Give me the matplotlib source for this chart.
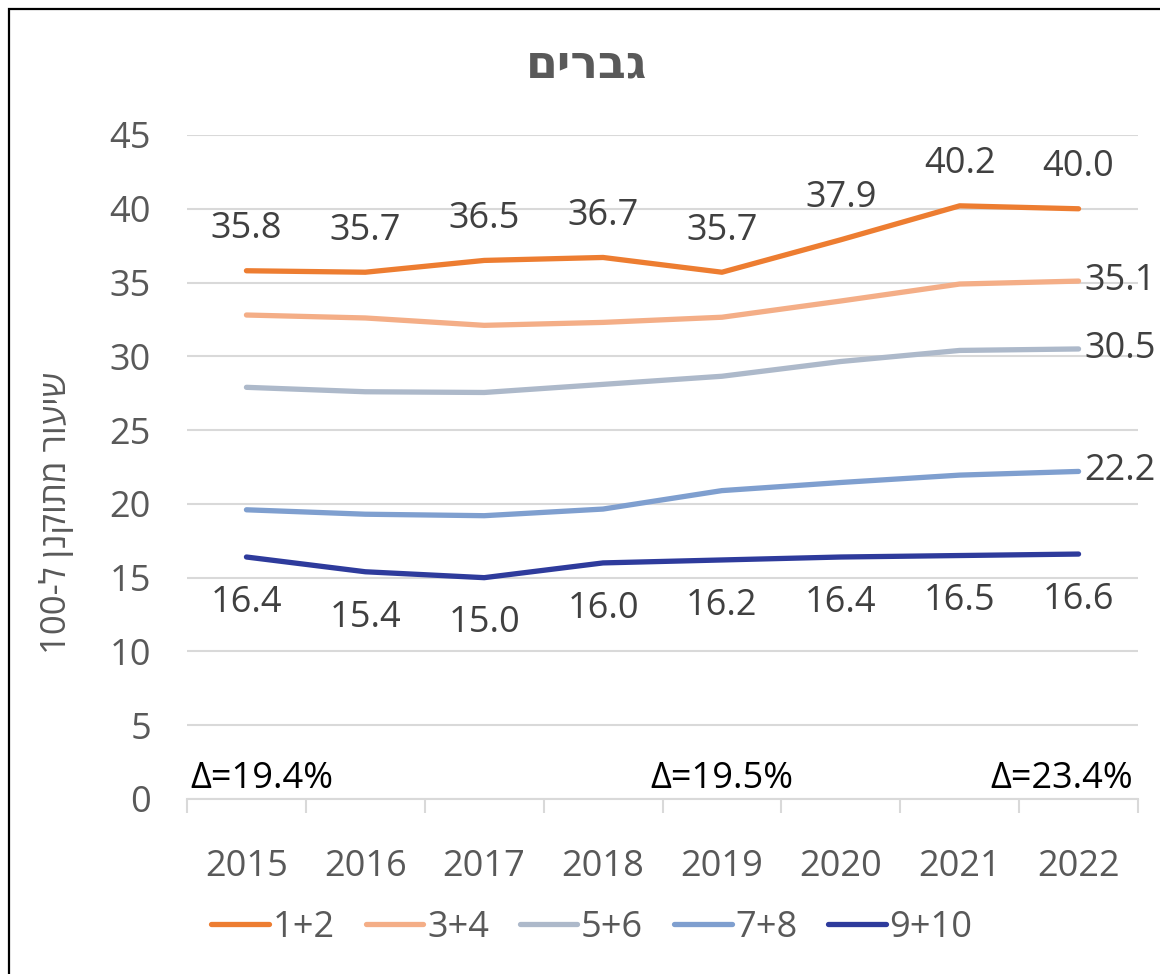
import matplotlib
matplotlib.use("Agg")
import matplotlib.pyplot as plt
import numpy as np
from matplotlib.patches import Rectangle
from matplotlib.ticker import FixedLocator, NullFormatter
import re

plt.rcParams['font.family'] = ['Open Sans', 'DejaVu Sans']

years = ['2015', '2016', '2017', '2018', '2019', '2020', '2021', '2022']
s12 = [35.8, 35.7, 36.5, 36.7, 35.7, 37.9, 40.2, 40.0]
s34 = [32.8, 32.6, 32.1, 32.3, 32.65, 33.75, 34.9, 35.1]
s56 = [27.9, 27.6, 27.55, 28.1, 28.65, 29.65, 30.4, 30.5]
s78 = [19.6, 19.3, 19.2, 19.65, 20.9, 21.45, 21.95, 22.2]
s910 = [16.4, 15.4, 15.0, 16.0, 16.2, 16.4, 16.5, 16.6]
names = ['1+2', '3+4', '5+6', '7+8', '9+10']
colors = ['#ED7D31', '#F4AE87', '#ADB9CA', '#7F9FCF', '#2E3B9C']
deltas = ['Δ=19.4%', 'Δ=19.5%', 'Δ=23.4%']

title_txt = 'גברים'
ylab_txt = 'שיעור מתוקנן ל-100'


def visual(s):
    # matplotlib has no bidi support: flip the string, then put digit runs back
    r = s[::-1]
    return re.sub(r'\d+', lambda m: m.group(0)[::-1], r)


fig = plt.figure(figsize=(11.6, 9.74), dpi=100)
ax = fig.add_axes([187/1160, 1-799/974, (1138-187)/1160, (799-135)/974])

x = np.arange(len(years))
series = [s12, s34, s56, s78, s910]
for vals, nm, c in zip(series, names, colors):
    ax.plot(x, vals, color=c, lw=3.8, label=nm, solid_capstyle='round', zorder=3)

lab_col = '#404040'
fs = 26
for i, v in enumerate(s12):
    ax.annotate(f'{v:.1f}', (i, v), xytext=(0, 30), textcoords='offset points',
                ha='center', va='center', fontsize=fs, color=lab_col)
for i, v in enumerate(s910):
    ax.annotate(f'{v:.1f}', (i, v), xytext=(0, -33), textcoords='offset points',
                ha='center', va='center', fontsize=fs, color=lab_col)
for vals in [s34, s56, s78]:
    ax.annotate(f'{vals[-1]:.1f}', (7, vals[-1]), xytext=(4, 0), textcoords='offset points',
                ha='left', va='center', fontsize=fs, color=lab_col, annotation_clip=False)

ax.text(-0.475, 1.35, deltas[0], ha='left', va='center', fontsize=fs, color='black')
ax.text(4.0, 1.35, deltas[1], ha='center', va='center', fontsize=fs, color='black')
ax.text(7.46, 1.35, deltas[2], ha='right', va='center', fontsize=fs, color='black')

ax.set_xlim(-0.5, 7.5)
ax.set_ylim(0, 45)
ax.set_yticks(range(0, 46, 5))
ax.yaxis.grid(True, color='#D9D9D9', lw=1.5)
ax.set_axisbelow(True)
for sp in ['top', 'right', 'left']:
    ax.spines[sp].set_visible(False)
ax.spines['bottom'].set_color('#D9D9D9')
ax.spines['bottom'].set_linewidth(1.5)

ax.xaxis.set_major_locator(FixedLocator(np.arange(-0.5, 8, 1)))
ax.xaxis.set_major_formatter(NullFormatter())
ax.xaxis.set_minor_locator(FixedLocator(x))
ax.set_xticklabels(years, minor=True)
ax.tick_params(axis='x', which='major', length=10, color='#D9D9D9', width=1.5)
ax.tick_params(axis='x', which='minor', length=0, pad=36, labelsize=fs, labelcolor='#595959')
ax.tick_params(axis='y', length=0, pad=26, labelsize=fs, labelcolor='#595959')

# y label and title placed by hand
fig.text(57/1160, 1-513/974, visual(ylab_txt), rotation=90, ha='center', va='center',
         fontsize=25, color='#595959')
fig.text(587/1160, 1-65/974, visual(title_txt), ha='center', va='center',
         fontsize=33, fontweight='bold', color='#595959')

leg = ax.legend(loc='center', bbox_to_anchor=(592/1160, 1-928/974), bbox_transform=fig.transFigure,
                ncol=5, frameon=False, fontsize=fs, handlelength=1.6, handletextpad=0.1,
                columnspacing=0.85)
for t in leg.get_texts():
    t.set_color('#595959')

fig.patches.append(Rectangle((9/1160, -0.1), 1.2, 1-9/974+0.1, transform=fig.transFigure,
                             fill=False, edgecolor='black', lw=1.6))

fig.savefig('out.png', dpi=100)
